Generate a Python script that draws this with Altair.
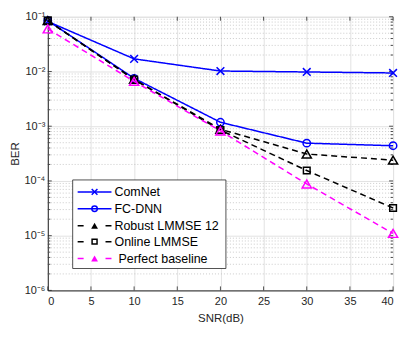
import altair as alt
import pandas as pd

# ---- data ----
snr = [0, 10, 20, 30, 40]
comnet = [0.082, 0.017, 0.0102, 0.0098, 0.0094]
fcdnn = [0.085, 0.0075, 0.00118, 0.00049, 0.00044]
robust = [0.085, 0.0072, 0.00088, 0.00031, 0.00024]
online = [0.085, 0.0071, 0.00085, 0.000155, 3.2e-5]
perfect = [0.06, 0.0066, 0.00082, 8.8e-5, 1.1e-5]

names = ["ComNet", "FC-DNN", "Robust LMMSE 12", "Online LMMSE", "Perfect baseline"]
series_vals = [comnet, fcdnn, robust, online, perfect]
colors = ["#0000ff", "#0000ff", "#000000", "#000000", "#ff00ff"]
dashes = [[1, 0], [1, 0], [6, 4], [6, 4], [6, 4]]
legend_dashes = [[1, 0], [1, 0], [6, 22], [6, 22], [6, 22]]
XPATH = "M-1,-1L1,1M-1,1L1,-1"
shapes = [XPATH, "circle", "triangle-up", "square", "triangle-up"]
sizes = [60, 55, 85, 45, 85]

x_ticks = [0, 5, 10, 15, 20, 25, 30, 35, 40]
y_major = [1e-6, 1e-5, 1e-4, 1e-3, 1e-2, 1e-1]
y_minor = [k * 10.0 ** e for e in range(-6, -1) for k in range(2, 10)]

W, H = 347, 275
FONT = "Liberation Sans"
AX = "#262626"

rows = []
for n, vals in zip(names, series_vals):
    for x, v in zip(snr, vals):
        rows.append({"series": n, "snr": x, "ber": v})
df = pd.DataFrame(rows)

xscale = alt.Scale(domain=[0, 40], nice=False)
yscale = alt.Scale(type="log", domain=[1e-6, 1e-1], nice=False)

sup = "['\u2070','\u00b9','\u00b2','\u00b3','\u2074','\u2075','\u2076']"
label_expr = "'10\u207b' + " + sup + "[round(-log(datum.value)/LN10)]"

xaxis = alt.Axis(values=x_ticks, title="SNR(dB)", grid=True, gridColor="#e2e2e2",
                 ticks=False, labelPadding=5, titlePadding=6, domainColor=AX,
                 labelColor=AX, titleColor=AX, labelFont=FONT, titleFont=FONT,
                 labelFontSize=11, titleFontSize=11.5, titleFontWeight="normal")
yaxis = alt.Axis(values=y_major, labelExpr=label_expr, title="BER", grid=True,
                 gridColor="#e2e2e2", ticks=False, labelPadding=3,
                 titleX=-32, titleY=H / 2, titleAngle=270, titleBaseline="middle",
                 titleAlign="center",
                 domainColor=AX, labelColor=AX, titleColor=AX, labelFont=FONT,
                 titleFont=FONT, labelFontSize=11, titleFontSize=11.5,
                 titleFontWeight="normal", labelFlush=False)

# minor dotted gridlines
minor_df = pd.DataFrame({"ber": y_minor})
minor_grid = alt.Chart(minor_df).mark_rule(strokeDash=[1, 2], color="#bdbdbd", strokeWidth=0.8).encode(
    y=alt.Y("ber:Q", scale=yscale, axis=yaxis),
    x=alt.value(0), x2=alt.value(W))

# inner ticks
xt_df = pd.DataFrame({"snr": x_ticks})
xt_bottom = alt.Chart(xt_df).mark_rule(color=AX, strokeWidth=0.8).encode(
    x=alt.X("snr:Q", scale=xscale, axis=xaxis), y=alt.value(H), y2=alt.value(H - 4))
xt_top = alt.Chart(xt_df).mark_rule(color=AX, strokeWidth=0.8).encode(
    x=alt.X("snr:Q", scale=xscale), y=alt.value(0), y2=alt.value(4))
ymaj_df = pd.DataFrame({"ber": y_major})
ymin_df = minor_df
yt = []
for d, L in [(ymaj_df, 4), (ymin_df, 2.5)]:
    yt.append(alt.Chart(d).mark_rule(color=AX, strokeWidth=0.8).encode(
        y=alt.Y("ber:Q", scale=yscale), x=alt.value(0), x2=alt.value(L)))
    yt.append(alt.Chart(d).mark_rule(color=AX, strokeWidth=0.8).encode(
        y=alt.Y("ber:Q", scale=yscale), x=alt.value(W), x2=alt.value(W - L)))

# series
series_layers = []
for i, n in enumerate(names):
    d = df[df.series == n]
    line = alt.Chart(d).mark_line(color=colors[i], strokeWidth=1.5, strokeDash=dashes[i]).encode(
        x=alt.X("snr:Q", scale=xscale), y=alt.Y("ber:Q", scale=yscale))
    pts = alt.Chart(d).mark_point(shape=shapes[i], size=sizes[i], filled=False,
                                  color=colors[i], strokeWidth=1.5, opacity=1).encode(
        x=alt.X("snr:Q", scale=xscale), y=alt.Y("ber:Q", scale=yscale))
    series_layers += [line, pts]

# legend
one = pd.DataFrame({"a": [0]})
leg_x0, leg_x1, leg_y0, leg_y1 = 25, 179, 164, 253
leg_rows = [176, 193, 210, 226, 243]
legend_layers = [alt.Chart(one).mark_rect(fill="white", stroke=AX, strokeWidth=0.8).encode(
    x=alt.value(leg_x0), x2=alt.value(leg_x1), y=alt.value(leg_y0), y2=alt.value(leg_y1))]
for i, n in enumerate(names):
    yy = leg_rows[i]
    legend_layers.append(alt.Chart(one).mark_rule(color=colors[i], strokeWidth=1.5,
                                                   strokeDash=legend_dashes[i]).encode(
        x=alt.value(30), x2=alt.value(64), y=alt.value(yy)))
    legend_layers.append(alt.Chart(one).mark_point(shape=shapes[i], size=sizes[i] * 0.55,
                                                   filled=(i in (2, 4)), color=colors[i],
                                                   strokeWidth=1.5, opacity=1).encode(
        x=alt.value(47), y=alt.value(yy)))
    tx = 71 if i == 4 else 67
    legend_layers.append(alt.Chart(one).mark_text(align="left", baseline="middle",
                                                  font=FONT, fontSize=12.5, color="#000000").encode(
        x=alt.value(tx), y=alt.value(yy), text=alt.value(n)))

chart = alt.layer(minor_grid, xt_bottom, xt_top, *yt, *series_layers, *legend_layers).properties(
    width=W, height=H,
    autosize=alt.AutoSizeParams(type="none"),
    padding={"left": 40, "top": 8, "right": 15, "bottom": 40},
).configure_view(stroke=AX, strokeWidth=1).configure(background="white")

chart.save("out.html", embed_options={"renderer": "svg", "actions": False})
